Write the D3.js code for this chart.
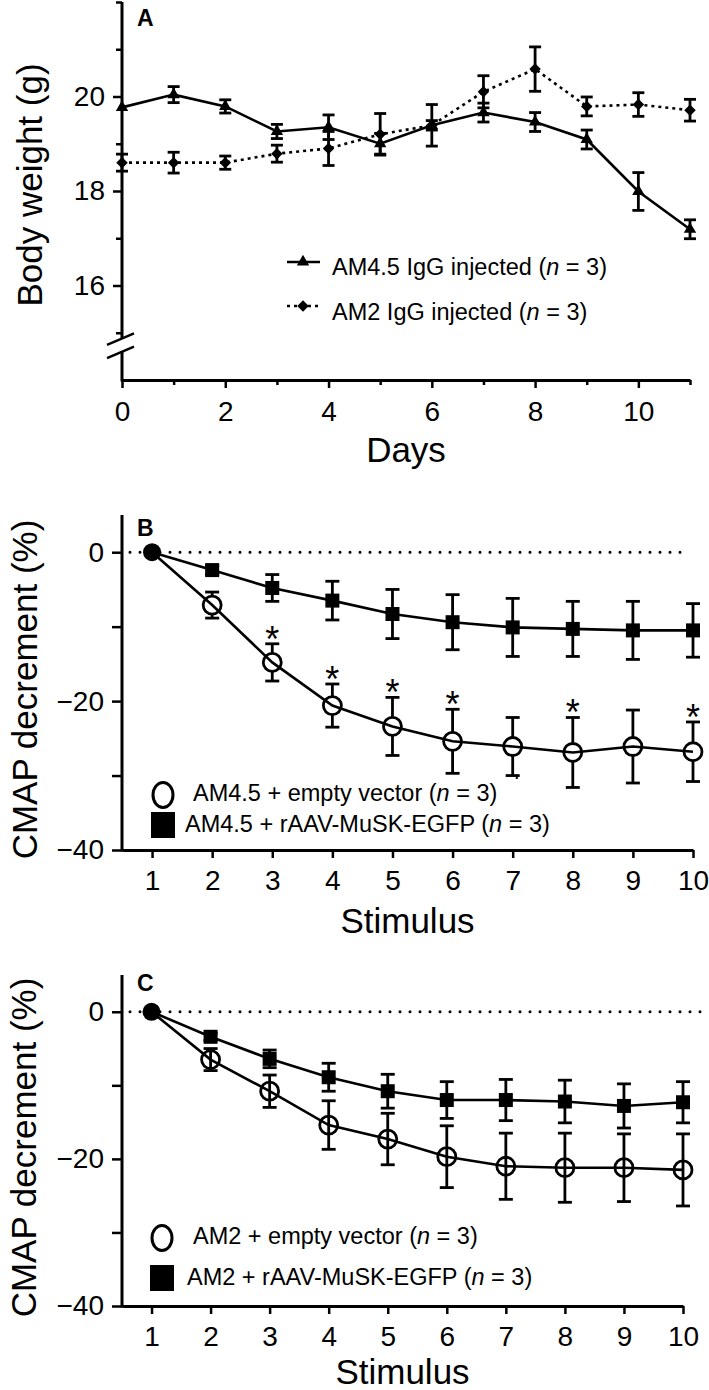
<!DOCTYPE html>
<html><head><meta charset="utf-8">
<script src="https://cdn.jsdelivr.net/npm/d3@7"></script>
<style>body{margin:0;background:#fff}svg{display:block}</style>
</head><body><svg id="c" width="709" height="1390"></svg>
<script>
// ---------- DATA ----------
// Panel A: body weight (g) by day
const days = [0,1,2,3,4,5,6,7,8,9,10,11];
const am45Weight    = [19.77,20.04,19.79,19.26,19.35,19.00,19.39,19.66,19.46,19.09,17.99,17.19];
const am45WeightErr = [0.00,0.17,0.14,0.15,0.26,0.22,0.10,0.20,0.20,0.20,0.40,0.20];
const am2Weight     = [18.60,18.60,18.60,18.79,18.90,19.20,19.39,20.10,20.58,19.79,19.83,19.71];
const am2WeightErr  = [0.18,0.22,0.14,0.18,0.36,0.44,0.44,0.34,0.47,0.20,0.25,0.23];
const dayMajorTicks = [0,2,4,6,8,10];
const dayMinorTicks = [1,3,5,7,9,11];
const weightMajorTicks = [16,18,20];
const weightMinorTicks = [15,17,19,21,22];
const legendA = ["AM4.5 IgG injected", "AM2 IgG injected"];

// Panels B and C: CMAP decrement (%) by stimulus
const stimuli = [1,2,3,4,5,6,7,8,9,10];
const bEmpty    = [0,-7.1,-14.8,-20.6,-23.4,-25.4,-26.1,-26.9,-26.1,-26.8];
const bEmptyErr = [0,1.75,2.5,2.9,3.9,4.3,3.9,4.7,4.9,4.0];
const bMusk     = [0,-2.4,-4.8,-6.5,-8.3,-9.4,-10.1,-10.3,-10.5,-10.5];
const bMuskErr  = [0,0.6,1.8,2.6,3.3,3.7,3.9,3.7,3.9,3.6];
const bSignificant = [3,4,5,6,8,10];
const cEmpty    = [0,-6.5,-10.8,-15.4,-17.3,-19.7,-21.0,-21.2,-21.2,-21.5];
const cEmptyErr = [0,1.5,2.2,3.3,3.5,4.2,4.5,4.7,4.6,4.9];
const cMusk     = [0,-3.4,-6.4,-8.9,-10.8,-12.0,-12.0,-12.2,-12.8,-12.3];
const cMuskErr  = [0,0.5,1.2,1.9,2.3,2.5,2.8,2.9,3.0,2.8];
const cmapMajorTicks = [-40,-20,0];
const cmapMinorTicks = [-30,-10];
const legendB = ["AM4.5 + empty vector", "AM4.5 + rAAV-MuSK-EGFP"];
const legendC = ["AM2 + empty vector", "AM2 + rAAV-MuSK-EGFP"];

// ---------- DRAWING ----------
const FONT = '"Liberation Sans", Arial, Helvetica, sans-serif';
const svg = d3.select("#c").attr("font-family", FONT);
const fmt = d3.format("d");
const TICK_FS = 28;

function styleAxis(g, fs) {
  g.selectAll("path.domain").attr("stroke", "#000").attr("stroke-width", 3);
  g.selectAll(".tick line").attr("stroke", "#000").attr("stroke-width", 2.5);
  g.selectAll(".tick text").attr("font-size", fs).attr("font-family", FONT).attr("fill", "#000");
}
function legendText(g, x, y, label, fs) {
  const t = g.append("text").attr("x", x).attr("y", y).attr("font-size", fs).attr("fill", "#000");
  t.append("tspan").text(label + " (");
  t.append("tspan").attr("font-style", "italic").text("n");
  t.append("tspan").text(" = 3)");
}
function errorBars(g, xs, vals, errs, x, y, cap, gapR) {
  xs.forEach((d, i) => {
    if (!errs[i]) return;
    const cx = x(d), hi = y(vals[i] + errs[i]), lo = y(vals[i] - errs[i]), c = y(vals[i]);
    const eb = g.append("g").attr("stroke", "#000").attr("stroke-width", 2.8).attr("fill", "none");
    if (gapR) {
      if (c - gapR > hi) eb.append("line").attr("x1", cx).attr("x2", cx).attr("y1", hi).attr("y2", c - gapR);
      if (c + gapR < lo) eb.append("line").attr("x1", cx).attr("x2", cx).attr("y1", c + gapR).attr("y2", lo);
    } else {
      eb.append("line").attr("x1", cx).attr("x2", cx).attr("y1", hi).attr("y2", lo);
    }
    eb.append("line").attr("x1", cx - cap / 2).attr("x2", cx + cap / 2).attr("y1", hi).attr("y2", hi);
    eb.append("line").attr("x1", cx - cap / 2).attr("x2", cx + cap / 2).attr("y1", lo).attr("y2", lo);
  });
}

// ===== Panel A =====
(function () {
  const x = d3.scaleLinear().domain([0, 11]).range([122, 690]);
  const y = d3.scaleLinear().domain([14, 22]).range([380, 2]);
  const g = svg.append("g");
  g.append("g").attr("transform", "translate(0,380)")
    .call(d3.axisBottom(x).tickValues(dayMajorTicks).tickSize(8).tickPadding(13).tickSizeOuter(0).tickFormat(fmt))
    .call(a => styleAxis(a, TICK_FS));
  g.append("g").attr("transform", "translate(0,380)")
    .call(d3.axisBottom(x).tickValues(dayMinorTicks).tickSize(5).tickSizeOuter(0).tickFormat(""))
    .call(a => { a.select(".domain").remove(); styleAxis(a, TICK_FS); });
  g.append("g").attr("transform", "translate(122,0)")
    .call(d3.axisLeft(y).tickValues(weightMajorTicks).tickSize(9).tickPadding(8).tickFormat(fmt))
    .call(a => { a.select(".domain").remove(); styleAxis(a, TICK_FS); });
  g.append("g").attr("transform", "translate(122,0)")
    .call(d3.axisLeft(y).tickValues(weightMinorTicks).tickSize(6).tickFormat(""))
    .call(a => { a.select(".domain").remove(); styleAxis(a, TICK_FS); });
  const bHi = y(14.88), bLo = y(14.6);
  g.append("line").attr("x1", 122).attr("x2", 122).attr("y1", y(22)).attr("y2", bHi).attr("stroke", "#000").attr("stroke-width", 3);
  g.append("line").attr("x1", 122).attr("x2", 122).attr("y1", bLo).attr("y2", 381.5).attr("stroke", "#000").attr("stroke-width", 3);
  [bHi, bLo].forEach(by => g.append("line").attr("x1", 107).attr("y1", by + 6.5).attr("x2", 134).attr("y2", by - 5)
    .attr("stroke", "#000").attr("stroke-width", 2.5));

  const line = d3.line().x((d, i) => x(days[i])).y(d => y(d));
  g.append("path").datum(am2Weight).attr("d", line).attr("fill", "none").attr("stroke", "#000")
    .attr("stroke-width", 2.6).attr("stroke-dasharray", "3,4");
  g.append("path").datum(am45Weight).attr("d", line).attr("fill", "none").attr("stroke", "#000").attr("stroke-width", 2.6);
  errorBars(g, days, am2Weight, am2WeightErr, x, y, 12, 0);
  errorBars(g, days, am45Weight, am45WeightErr, x, y, 12, 0);
  const tri = d3.symbol(d3.symbolTriangle, 66)(), dia = d3.symbol(d3.symbolSquare, 66)();
  days.forEach((d, i) => {
    g.append("path").attr("d", dia).attr("transform", `translate(${x(d)},${y(am2Weight[i])}) rotate(45)`).attr("fill", "#000");
    g.append("path").attr("d", tri).attr("transform", `translate(${x(d)},${y(am45Weight[i])})`).attr("fill", "#000");
  });
  g.append("line").attr("x1", 287).attr("x2", 320).attr("y1", 262).attr("y2", 262).attr("stroke", "#000").attr("stroke-width", 2.6);
  g.append("path").attr("d", tri).attr("transform", "translate(303,262)").attr("fill", "#000");
  g.append("line").attr("x1", 287).attr("x2", 320).attr("y1", 306).attr("y2", 306).attr("stroke", "#000").attr("stroke-width", 2.6).attr("stroke-dasharray", "3,4");
  g.append("path").attr("d", dia).attr("transform", "translate(303,306) rotate(45)").attr("fill", "#000");
  legendText(g, 332, 275, legendA[0], 23.5);
  legendText(g, 332, 320, legendA[1], 23.5);
  g.append("text").attr("x", 137).attr("y", 26).attr("font-size", 23).attr("font-weight", "bold").text("A");
  g.append("text").attr("x", (x.range()[0] + x.range()[1]) / 2).attr("y", 462).attr("text-anchor", "middle").attr("font-size", 35).text("Days");
  g.append("text").attr("transform", "translate(42,185) rotate(-90)").attr("text-anchor", "middle").attr("font-size", 35).text("Body weight (g)");
})();

// ===== Panels B & C =====
function cmapPanel(o) {
  const x = d3.scaleLinear().domain([0.5, 10]).range([122, o.right]);
  const y = d3.scaleLinear().domain([-40, 5]).range([o.bottom, o.top]);
  const g = svg.append("g");
  g.append("g").attr("transform", `translate(0,${o.bottom})`)
    .call(d3.axisBottom(x).tickValues(stimuli).tickSize(8).tickPadding(12).tickSizeOuter(0).tickFormat(fmt))
    .call(a => styleAxis(a, TICK_FS));
  g.append("g").attr("transform", "translate(122,0)")
    .call(d3.axisLeft(y).tickValues(cmapMajorTicks).tickSize(10).tickPadding(8).tickSizeOuter(0).tickFormat(fmt))
    .call(a => { a.select(".domain").remove(); styleAxis(a, TICK_FS); });
  g.append("g").attr("transform", "translate(122,0)")
    .call(d3.axisLeft(y).tickValues(cmapMinorTicks).tickSize(10).tickFormat(""))
    .call(a => { a.select(".domain").remove(); styleAxis(a, TICK_FS); });
  g.append("line").attr("x1", 122).attr("x2", 122).attr("y1", o.top).attr("y2", o.bottom + 1.5).attr("stroke", "#000").attr("stroke-width", 3);
  g.append("line").attr("x1", 130).attr("x2", o.dotEnd).attr("y1", y(0)).attr("y2", y(0))
    .attr("stroke", "#000").attr("stroke-width", 3).attr("stroke-linecap", "round").attr("stroke-dasharray", "0,10");
  const line = d3.line().x((d, i) => x(stimuli[i])).y(d => y(d));
  g.append("path").datum(o.musk).attr("d", line).attr("fill", "none").attr("stroke", "#000").attr("stroke-width", 2.6);
  g.append("path").datum(o.empty).attr("d", line).attr("fill", "none").attr("stroke", "#000").attr("stroke-width", 2.6);
  errorBars(g, stimuli, o.musk, o.muskErr, x, y, 14, 0);
  errorBars(g, stimuli, o.empty, o.emptyErr, x, y, 14, o.gapR);
  stimuli.forEach((s, i) => {
    if (i === 0) return;
    g.append("rect").attr("x", x(s) - 7).attr("y", y(o.musk[i]) - 7).attr("width", 14).attr("height", 14).attr("fill", "#000");
    g.append("circle").attr("cx", x(s)).attr("cy", y(o.empty[i])).attr("r", 9).attr("fill", "none").attr("stroke", "#000").attr("stroke-width", 2.8);
  });
  g.append("circle").attr("cx", x(stimuli[0])).attr("cy", y(o.empty[0])).attr("r", 9).attr("fill", "#000");
  if (o.signif) o.signif.forEach(s => {
    const i = stimuli.indexOf(s);
    g.append("text").attr("x", x(s)).attr("y", y(o.empty[i] + o.emptyErr[i]) + 8).attr("text-anchor", "middle")
      .attr("font-size", 36).text("*");
  });
  if (o.strayDot) g.append("text").attr("x", x(o.strayDot[0]) + 4).attr("y", y(o.strayDot[1])).attr("text-anchor", "middle").attr("font-size", 20).text(".");
  g.append("ellipse").attr("cx", o.legX).attr("cy", o.leg1Y).attr("rx", 10).attr("ry", 12.5).attr("fill", "none").attr("stroke", "#000").attr("stroke-width", 3);
  g.append("rect").attr("x", o.legX - 12).attr("y", o.leg2Y - 13).attr("width", 24).attr("height", 26).attr("fill", "#000");
  legendText(g, 193, o.leg1Y + 6, o.labels[0], 23.5);
  legendText(g, o.text2X, o.leg2Y + 7, o.labels[1], 23.5);
  g.append("text").attr("x", 137).attr("y", o.top + o.letterDy).attr("font-size", 23).attr("font-weight", "bold").text(o.letter);
  g.append("text").attr("x", (122 + o.right) / 2).attr("y", o.bottom + o.titleDy).attr("text-anchor", "middle").attr("font-size", 35).text("Stimulus");
  g.append("text").attr("transform", `translate(${o.titleX},${(o.top + o.bottom) / 2 + 7}) rotate(-90)`).attr("text-anchor", "middle")
    .attr("font-size", 35).text("CMAP decrement (%)");
}

cmapPanel({ top: 515, bottom: 850, right: 693, dotEnd: 685, empty: bEmpty, emptyErr: bEmptyErr, musk: bMusk, muskErr: bMuskErr,
  signif: bSignificant, gapR: 9, letter: "B", letterDy: 21, legX: 163, leg1Y: 795, leg2Y: 825, text2X: 185, labels: legendB,
  titleX: 37, titleDy: 83, strayDot: [7, -30.5] });
cmapPanel({ top: 975, bottom: 1306, right: 683, dotEnd: 705, empty: cEmpty, emptyErr: cEmptyErr, musk: cMusk, muskErr: cMuskErr,
  signif: null, gapR: 0, letter: "C", letterDy: 16, legX: 162, leg1Y: 1238, leg2Y: 1278, text2X: 187, labels: legendC,
  titleX: 36, titleDy: 78 });
</script></body></html>
